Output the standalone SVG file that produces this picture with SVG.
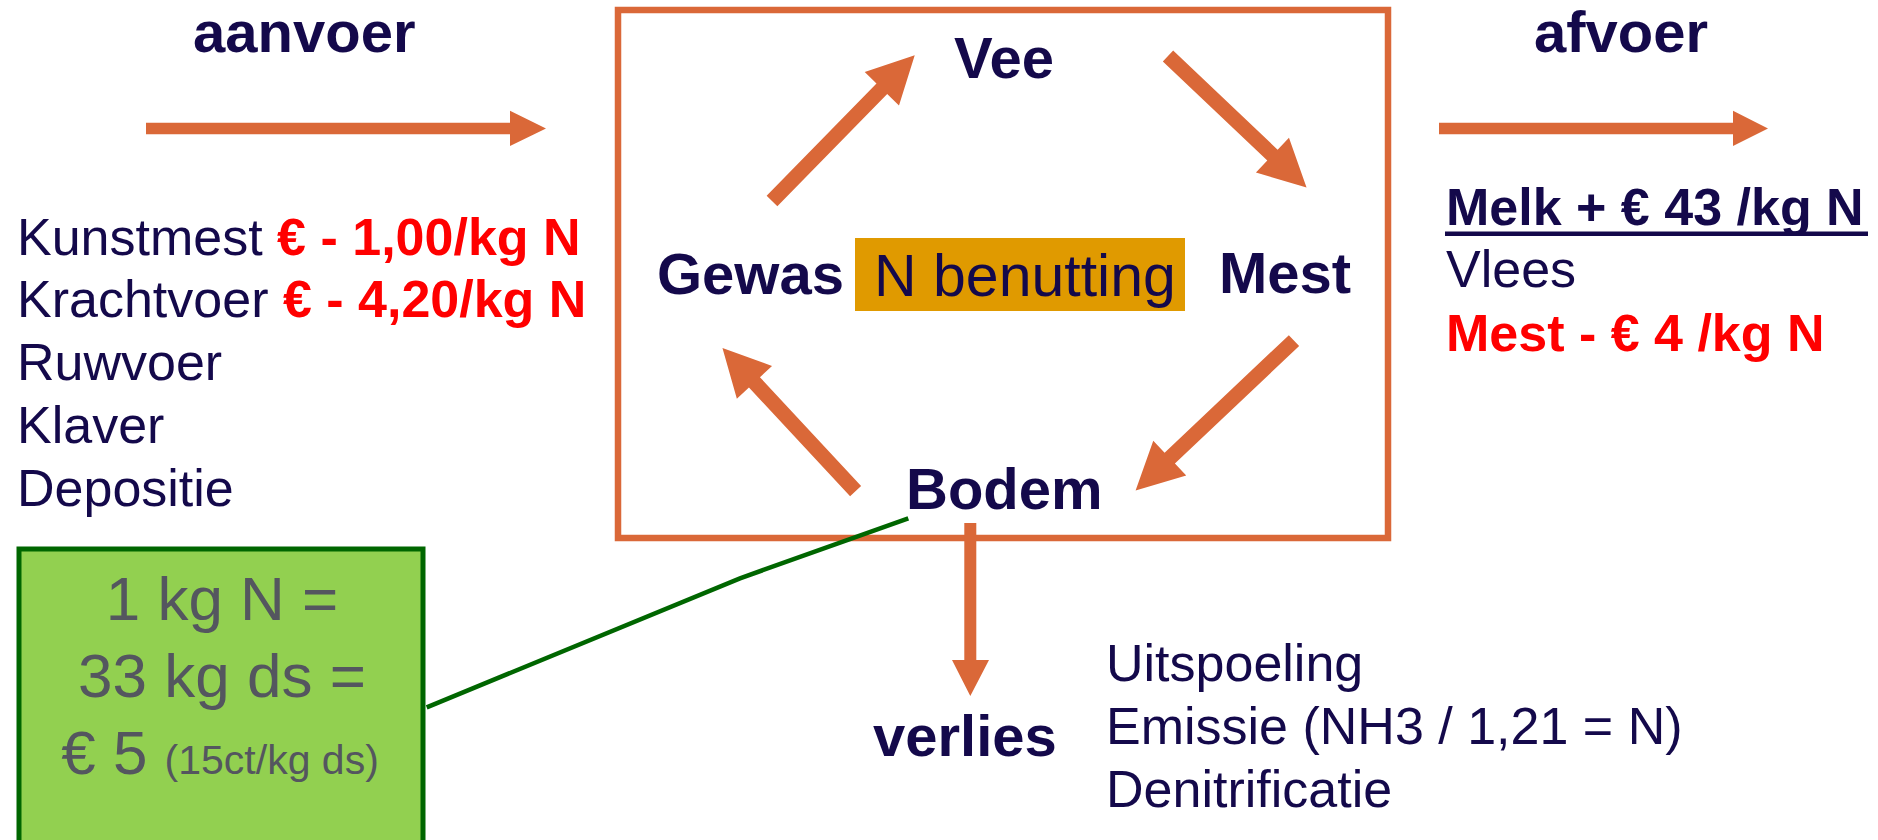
<svg xmlns="http://www.w3.org/2000/svg" width="1878" height="840" viewBox="0 0 1878 840">
<style>
text{font-family:"Liberation Sans",Arial,sans-serif;fill:#14094B}
.b{font-weight:bold}
.h{font-size:58px;font-weight:bold}
.t{font-size:52px}
.red{fill:#FF0000;font-weight:bold}
.arr{fill:#DA6838}
.g{fill:#54565F;font-size:62px}
</style>
<rect width="1878" height="840" fill="#FFFFFF"/>
<g id="system-box"><rect x="618" y="10" width="770" height="528" fill="none" stroke="#DA6838" stroke-width="6.5"/></g>
<g id="aanvoer"><text class="h" x="193" y="52">aanvoer</text></g>
<g id="afvoer"><text class="h" x="1534" y="52">afvoer</text></g>
<g id="aanvoer-list">
<text class="t" x="17" y="255">Kunstmest <tspan class="red">€ - 1,00/kg N</tspan></text>
<text class="t" x="17" y="317">Krachtvoer <tspan class="red">€ - 4,20/kg N</tspan></text>
<text class="t" x="17" y="380">Ruwvoer</text>
<text class="t" x="17" y="443">Klaver</text>
<text class="t" x="17" y="506">Depositie</text>
</g>
<g id="afvoer-list">
<text class="t b" x="1446" y="225">Melk + € 43 /kg N</text>
<rect x="1445" y="231.5" width="423" height="4.5" fill="#14094B"/>
<text class="t" x="1446" y="287">Vlees</text>
<text class="t red" x="1446" y="351">Mest - € 4 /kg N</text>
</g>
<g id="vee"><text class="h" x="954" y="78">Vee</text></g>
<g id="gewas"><text class="h" x="657" y="294">Gewas</text></g>
<g id="n-benutting"><rect x="855" y="238" width="330" height="73" fill="#E09A00"/><text x="874" y="296" font-size="59">N benutting</text></g>
<g id="mest"><text class="h" x="1219" y="293">Mest</text></g>
<g id="bodem"><text class="h" x="906" y="509">Bodem</text></g>
<g id="verlies"><text class="h" x="873" y="756">verlies</text></g>
<g id="verlies-list">
<text class="t" x="1106" y="681">Uitspoeling</text>
<text class="t" x="1106" y="744">Emissie (NH3 / 1,21 = N)</text>
<text class="t" x="1106" y="807">Denitrificatie</text>
</g>
<g id="info-box">
<rect x="19" y="549" width="404" height="330" fill="#92D050" stroke="#006600" stroke-width="5"/>
<text class="g" x="222" y="620" text-anchor="middle">1 kg N =</text>
<text class="g" x="222" y="697" text-anchor="middle">33 kg ds =</text>
<text class="g" x="220" y="774" text-anchor="middle">€ 5 <tspan font-size="41">(15ct/kg ds)</tspan></text>
</g>
<g id="connectors">
<path class="arr" d="M146,122.7 H510 V110.7 L546,128.5 L510,146 V134.3 H146 Z"/>
<path class="arr" d="M1439,122.7 H1733 V110.7 L1768,128.5 L1733,146 V134.3 H1439 Z"/>
<path class="arr" d="M964.3,523 H976.3 V660 H989 L970.3,696 L952,660 H964.3 Z"/>
<path class="arr" transform="translate(772,201) rotate(-45.6)" d="M0,-7.5 H157 V-24 L204,0 L157,24 V7.5 H0 Z"/>
<path class="arr" transform="translate(1168,56) rotate(43.5)" d="M0,-7.5 H144 V-24 L191,0 L144,24 V7.5 H0 Z"/>
<path class="arr" transform="translate(1294,340.6) rotate(136.6)" d="M0,-7.5 H171 V-24 L218,0 L171,24 V7.5 H0 Z"/>
<path class="arr" transform="translate(855.6,491.2) rotate(-132.9)" d="M0,-7.5 H148.6 V-24 L195.6,0 L148.6,24 V7.5 H0 Z"/>
<polyline points="426.7,707.3 740,578.3 908.3,518.3" fill="none" stroke="#006600" stroke-width="4.5"/>
</g>
</svg>
